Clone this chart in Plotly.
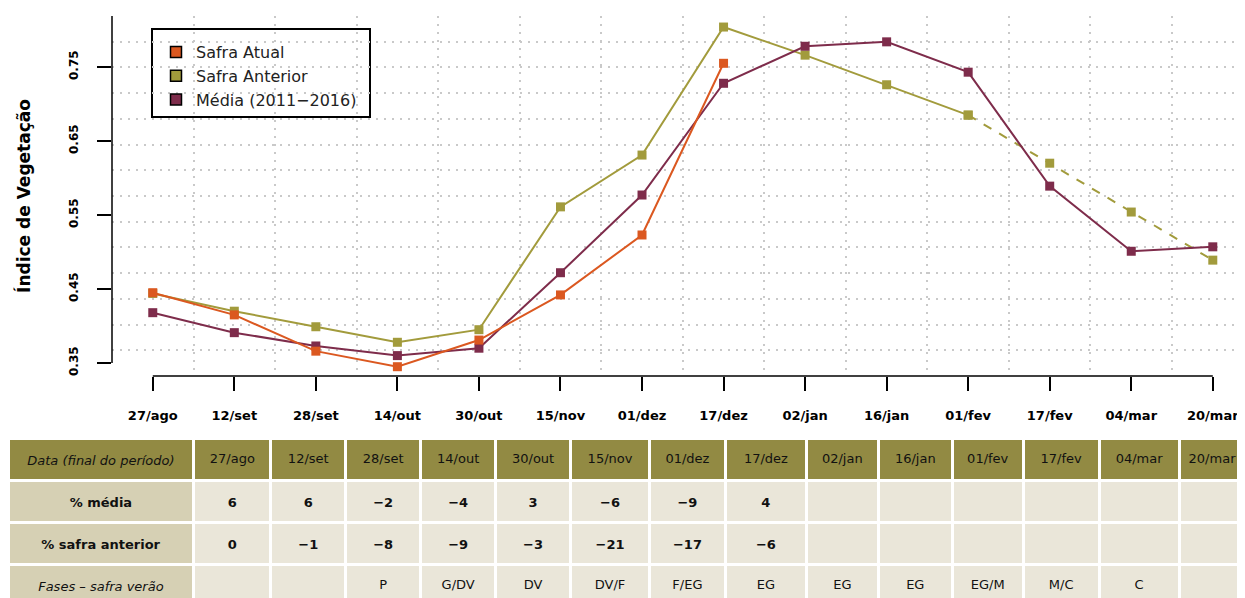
import plotly.graph_objects as go

# ---------------- data ----------------
datas = ["27/ago", "12/set", "28/set", "14/out", "30/out", "15/nov", "01/dez",
         "17/dez", "02/jan", "16/jan", "01/fev", "17/fev", "04/mar", "20/mar"]
safra_atual = [0.445, 0.415, 0.366, 0.345, 0.381, 0.442, 0.523, 0.755]
safra_anterior = [0.444, 0.420, 0.399, 0.378, 0.395, 0.561, 0.631, 0.804,
                  0.766, 0.726, 0.685, 0.620, 0.554, 0.489]
media = [0.418, 0.391, 0.373, 0.360, 0.370, 0.472, 0.577, 0.728,
         0.778, 0.784, 0.743, 0.589, 0.501, 0.507]
y_ticks = [0.35, 0.45, 0.55, 0.65, 0.75]
y_tick_text = ["0.35", "0.45", "0.55", "0.65", "0.75"]
n_proj = 10  # index from which Safra Anterior is drawn dashed

header_label = "<i>Data (final do período)</i>"
row_labels = ["<b>% média</b>", "<b>% safra anterior</b>", "<i>Fases – safra verão</i>"]
pct_media = ["6", "6", "−2", "−4", "3", "−6", "−9", "4", "", "", "", "", "", ""]
pct_anterior = ["0", "−1", "−8", "−9", "−3", "−21", "−17", "−6", "", "", "", "", "", ""]
fases = ["", "", "P", "G/DV", "DV", "DV/F", "F/EG", "EG", "EG", "EG", "EG/M", "M/C", "C", ""]

# ---------------- styles ----------------
C_ATUAL = "#DB5820"
C_ANT = "#A29B3C"
C_MED = "#7E2C4B"
FONT = "DejaVu Sans, Verdana, sans-serif"
OFF = 8                       # page body margin
W, H = 1245 - OFF, 598 - OFF  # figure size


def fx(px):
    return (px - OFF) / W


def fy(py):
    return 1 - (py - OFF) / H


x = list(range(1, len(datas) + 1))

fig = go.Figure()

fig.add_trace(go.Scatter(x=x[:n_proj + 1], y=safra_anterior[:n_proj + 1], mode="lines+markers",
                         line=dict(color=C_ANT, width=2),
                         marker=dict(symbol="square", size=9, color=C_ANT),
                         showlegend=False, hoverinfo="skip"))
fig.add_trace(go.Scatter(x=x[n_proj:], y=safra_anterior[n_proj:], mode="lines+markers",
                         line=dict(color=C_ANT, width=2, dash="dash"),
                         marker=dict(symbol="square", size=9, color=C_ANT),
                         showlegend=False, hoverinfo="skip"))
fig.add_trace(go.Scatter(x=x, y=media, mode="lines+markers",
                         line=dict(color=C_MED, width=2),
                         marker=dict(symbol="square", size=9, color=C_MED),
                         showlegend=False, hoverinfo="skip"))
fig.add_trace(go.Scatter(x=x[:len(safra_atual)], y=safra_atual, mode="lines+markers",
                         line=dict(color=C_ATUAL, width=2),
                         marker=dict(symbol="square", size=9, color=C_ATUAL),
                         showlegend=False, hoverinfo="skip"))

# legend entries (square keys only)
for name, col in [("Safra Atual", C_ATUAL), ("Safra Anterior", C_ANT),
                  ("Média (2011−2016)", C_MED)]:
    fig.add_trace(go.Scatter(x=[None], y=[None], mode="markers", name=name,
                             marker=dict(symbol="square", size=11, color=col,
                                         line=dict(color="black", width=1.5))))

# ---------------- table ----------------
label_fill = "#D6D0B4"
cell_fill = "#EAE6D9"
col_w = [186, 77, 75, 75, 75, 75, 79, 76, 81, 72, 74, 71, 76, 80, 66]
n_rows = 3
header_vals = [header_label] + datas
cell_vals = [row_labels] + [[f"<b>{pct_media[i]}</b>", f"<b>{pct_anterior[i]}</b>", fases[i]]
                            for i in range(len(datas))]
# cell backgrounds
fig.add_trace(go.Table(
    domain=dict(x=[0, 1], y=[0, fy(438)]),
    columnwidth=col_w,
    header=dict(values=[""] * len(header_vals), fill_color="#928A43",
                line=dict(color="white", width=3), height=42),
    cells=dict(values=[[""] * n_rows] * len(header_vals),
               fill_color=[[label_fill] * n_rows] + [[cell_fill] * n_rows] * len(datas),
               line=dict(color="white", width=3), height=42),
))
# cell texts (vertically centred in the cells above)
fig.add_trace(go.Table(
    domain=dict(x=[0, 1], y=[0, fy(445)]),
    columnwidth=col_w,
    header=dict(values=header_vals, fill_color="rgba(0,0,0,0)",
                line=dict(color="rgba(0,0,0,0)", width=3),
                align="center", height=42,
                font=dict(family=FONT, size=13, color="#111")),
    cells=dict(values=cell_vals, fill_color="rgba(0,0,0,0)",
               line=dict(color="rgba(0,0,0,0)", width=3),
               align="center", height=42,
               font=dict(family=FONT, size=13, color="#111")),
))

top_px, bot_px = 16, 376
y0v = 0.35 - (bot_px - 363) / 740
y1v = 0.75 + (67 - top_px) / 740
x_px_per_unit = 81.54

fig.update_layout(
    width=W, height=H,
    margin=dict(l=0, r=0, t=0, b=0),
    paper_bgcolor="white", plot_bgcolor="white",
    font=dict(family=FONT, color="black"),
    showlegend=True,
    legend=dict(x=fx(156), y=fy(35), xanchor="left", yanchor="top",
                borderwidth=0, bgcolor="rgba(0,0,0,0)",
                font=dict(family=FONT, size=16, color="#222")),
    xaxis=dict(domain=[fx(112), 1], range=[0.5, 0.5 + (1245 - 112) / x_px_per_unit],
               tickvals=x, ticktext=[f"<b>{d}</b>" for d in datas],
               ticks="outside", ticklen=14, tickwidth=1.5, tickcolor="black",
               ticklabelstandoff=13,
               tickfont=dict(family=FONT, size=13, color="black"),
               showgrid=False, zeroline=False, showline=False,
               minor=dict(tick0=0.5, dtick=1, showgrid=True, gridcolor="#c9c9c9",
                          griddash="2px,6px", gridwidth=1.5, ticks="")),
    yaxis=dict(domain=[fy(bot_px), fy(top_px)], range=[y0v, y1v],
               tickvals=y_ticks, ticktext=[f"<b>{t}</b>" for t in y_tick_text],
               tickangle=-90,
               ticks="outside", ticklen=14, tickwidth=1.5, tickcolor="black",
               ticklabelstandoff=14,
               tickfont=dict(family=FONT, size=12, color="black"),
               showgrid=False, zeroline=False, showline=False,
               minor=dict(tick0=y0v, dtick=(y1v - y0v) / 14, showgrid=True,
                          gridcolor="#c9c9c9", griddash="2px,6px", gridwidth=1.5, ticks=""),
               title=dict(text="<b>Índice de Vegetação</b>", standoff=32,
                          font=dict(family=FONT, size=17, color="black"))),
)

# legend frame
fig.add_shape(type="rect", xref="paper", yref="paper", layer="between",
              x0=fx(152), x1=fx(370), y0=fy(117), y1=fy(29),
              fillcolor="white", line=dict(color="black", width=2))
# axis lines (R style: y from lowest tick to top, x from first to last tick)
fig.add_shape(type="line", xref="x domain", yref="y", x0=0, x1=0, y0=y_ticks[0], y1=y1v,
              line=dict(color="black", width=1.5))
fig.add_shape(type="line", xref="x", yref="y domain", x0=x[0], x1=x[-1], y0=0, y1=0,
              line=dict(color="black", width=1.5))

fig.write_html("out.html")
